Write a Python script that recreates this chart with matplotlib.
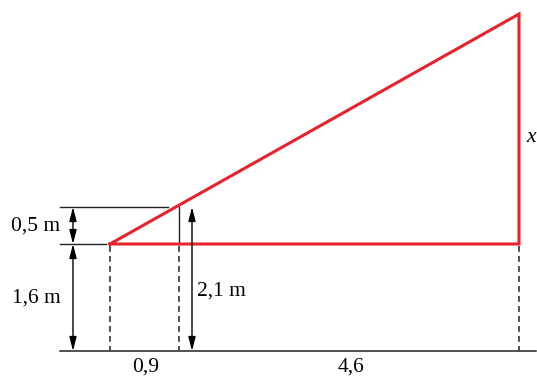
import matplotlib
matplotlib.use("Agg")
import matplotlib.pyplot as plt

# Diagram geometry (pixel-like drawing units)
ground_y = 351
base_y = 244
top_small_y = 207
apex_y = 14
x_left = 110
x_mid = 179
x_right = 519
x_arrow_left = 73
x_arrow_mid = 192

labels_left = ["0,5 m", "1,6 m"]
label_mid = "2,1 m"
labels_bottom = ["0,9", "4,6"]
label_x = "x"

red = "#e8212b"
blk = "#222222"

fig = plt.figure(figsize=(5.37, 3.78), dpi=100)
ax = fig.add_axes([0, 0, 1, 1])
ax.set_xlim(0, 537)
ax.set_ylim(378, 0)
ax.axis("off")

# ground
ax.plot([60, 536], [ground_y, ground_y], color=blk, lw=1.1)
# reference horizontals
ax.plot([60, 168], [top_small_y, top_small_y], color=blk, lw=1.0)
ax.plot([60, 106], [base_y, base_y], color=blk, lw=1.0)
# small vertical post
ax.plot([x_mid, x_mid], [top_small_y, base_y], color=blk, lw=1.0)
# dashed verticals
for xx in [x_left, x_mid, x_right]:
    ax.plot([xx, xx], [base_y + 2, ground_y], color="#333333", lw=1.2, ls=(0, (3.5, 2.5)))

# triangle
ax.plot([x_left, x_right, x_right, x_left], [base_y, base_y, apex_y, base_y],
        color=red, lw=2.2, solid_joinstyle="miter")

# arrows
def darrow(x, y0, y1):
    ax.annotate("", xy=(x, y0), xytext=(x, y1),
                arrowprops=dict(arrowstyle="<|-|>,head_length=0.7,head_width=0.18",
                                color="black", lw=1.0,
                                mutation_scale=12, shrinkA=0, shrinkB=0))

darrow(x_arrow_left, top_small_y, base_y)
darrow(x_arrow_left, base_y, ground_y)
darrow(x_arrow_mid, top_small_y, ground_y)

font = dict(family="Liberation Serif", size=15.5, color="black")
ax.text(36, 226, labels_left[0], ha="center", va="center", **font)
ax.text(36, 298, labels_left[1], ha="center", va="center", **font)
ax.text(197, 291, label_mid, ha="left", va="center", **font)
ax.text(146, 367, labels_bottom[0], ha="center", va="center", **font)
ax.text(351, 367, labels_bottom[1], ha="center", va="center", **font)
ax.text(526, 137, label_x, ha="left", va="center", style="italic", **font)

fig.savefig("out.png", dpi=100)
